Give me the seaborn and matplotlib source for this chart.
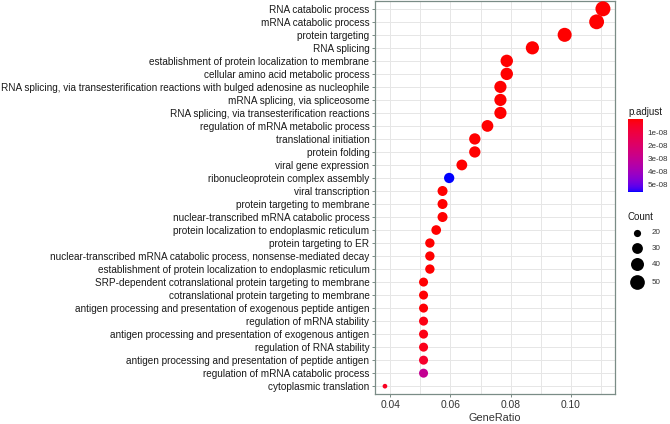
import numpy as np
import pandas as pd
import matplotlib
matplotlib.use("Agg")
import matplotlib.pyplot as plt
from matplotlib.colors import LinearSegmentedColormap, Normalize
from matplotlib.cm import ScalarMappable
import seaborn as sns

terms = [
    "RNA catabolic process",
    "mRNA catabolic process",
    "protein targeting",
    "RNA splicing",
    "establishment of protein localization to membrane",
    "cellular amino acid metabolic process",
    "RNA splicing, via transesterification reactions with bulged adenosine as nucleophile",
    "mRNA splicing, via spliceosome",
    "RNA splicing, via transesterification reactions",
    "regulation of mRNA metabolic process",
    "translational initiation",
    "protein folding",
    "viral gene expression",
    "ribonucleoprotein complex assembly",
    "viral transcription",
    "protein targeting to membrane",
    "nuclear-transcribed mRNA catabolic process",
    "protein localization to endoplasmic reticulum",
    "protein targeting to ER",
    "nuclear-transcribed mRNA catabolic process, nonsense-mediated decay",
    "establishment of protein localization to endoplasmic reticulum",
    "SRP-dependent cotranslational protein targeting to membrane",
    "cotranslational protein targeting to membrane",
    "antigen processing and presentation of exogenous peptide antigen",
    "regulation of mRNA stability",
    "antigen processing and presentation of exogenous antigen",
    "regulation of RNA stability",
    "antigen processing and presentation of peptide antigen",
    "regulation of mRNA catabolic process",
    "cytoplasmic translation",
]
gene_ratio = [0.1106, 0.1085, 0.0979, 0.0872, 0.0787, 0.0787, 0.0766, 0.0766,
              0.0766, 0.0723, 0.0681, 0.0681, 0.0638, 0.0596, 0.0574, 0.0574,
              0.0574, 0.0553, 0.0532, 0.0532, 0.0532, 0.0511, 0.0511, 0.0511,
              0.0511, 0.0511, 0.0511, 0.0511, 0.0511, 0.0383]
counts = [52, 51, 46, 41, 37, 37, 36, 36, 36, 34, 32, 32, 30, 28, 27, 27,
          27, 26, 25, 25, 25, 24, 24, 24, 24, 24, 24, 24, 24, 18]
p_adjust = [1e-20, 1e-20, 1e-18, 1e-16, 1e-15, 2e-14, 1e-14, 1e-14,
            1e-14, 1e-13, 1e-13, 1e-12, 1e-12, 5.55e-08, 1e-12, 1e-12,
            1e-12, 1e-11, 1e-11, 1e-11, 1e-11, 3e-10, 3e-10, 5e-10,
            2e-09, 2e-09, 3e-09, 6e-09, 3.0e-08, 4e-09]
size_legend_values = [20, 30, 40, 50]
cbar_ticks = [1e-08, 2e-08, 3e-08, 4e-08, 5e-08]
cbar_labels = ["1e-08", "2e-08", "3e-08", "4e-08", "5e-08"]
x_ticks = [0.04, 0.06, 0.08, 0.10]
x_tick_labels = ["0.04", "0.06", "0.08", "0.10"]

df = pd.DataFrame({"Description": terms, "GeneRatio": gene_ratio,
                   "Count": counts, "p.adjust": p_adjust})

# ---- colour map: red -> blue interpolated in CIE Lab (like ggplot) ----
def srgb_to_lab(rgb):
    rgb = np.asarray(rgb, float)
    lin = np.where(rgb <= 0.04045, rgb / 12.92, ((rgb + 0.055) / 1.055) ** 2.4)
    M = np.array([[0.4124, 0.3576, 0.1805], [0.2126, 0.7152, 0.0722], [0.0193, 0.1192, 0.9505]])
    xyz = M @ lin
    wp = np.array([0.95047, 1.0, 1.08883])
    t = xyz / wp
    f = np.where(t > (6/29) ** 3, np.cbrt(t), t / (3 * (6/29) ** 2) + 4/29)
    return np.array([116 * f[1] - 16, 500 * (f[0] - f[1]), 200 * (f[1] - f[2])])

def lab_to_srgb(lab):
    L, a, b = lab
    fy = (L + 16) / 116
    fx = fy + a / 500
    fz = fy - b / 200
    f = np.array([fx, fy, fz])
    t = np.where(f > 6/29, f ** 3, 3 * (6/29) ** 2 * (f - 4/29))
    xyz = t * np.array([0.95047, 1.0, 1.08883])
    Minv = np.array([[3.2406, -1.5372, -0.4986], [-0.9689, 1.8758, 0.0415], [0.0557, -0.2040, 1.0570]])
    lin = np.clip(Minv @ xyz, 0, 1)
    rgb = np.where(lin <= 0.0031308, 12.92 * lin, 1.055 * lin ** (1/2.4) - 0.055)
    return np.clip(rgb, 0, 1)

lab_r = srgb_to_lab([1, 0, 0])
lab_b = srgb_to_lab([0, 0, 1])
stops = [lab_to_srgb(lab_r + (lab_b - lab_r) * t) for t in np.linspace(0, 1, 64)]
cmap = LinearSegmentedColormap.from_list("redblue_lab", stops)
vmin, vmax = min(p_adjust), max(p_adjust)

# ---- size mapping (diameter in px, ggplot-like sqrt scaling) ----
cmin, cmax = min(counts), max(counts)
def area_for(c):
    d_px = 4.7 + 10.3 * np.sqrt(max(c - cmin, 0) / (cmax - cmin))
    d_pt = d_px * 72 / 100
    return d_pt ** 2
size_map = {c: area_for(c) for c in sorted(set(counts))}

sns.set_theme(style="white")
plt.rcParams["font.family"] = ["Liberation Sans", "DejaVu Sans"]

W, H = 670, 424
fig = plt.figure(figsize=(W / 100, H / 100), dpi=100)
ax = fig.add_axes([375/W, 1 - 394/H, 240/W, 393/H])

sns.scatterplot(data=df, x="GeneRatio", y="Description", hue="p.adjust",
                palette=cmap, hue_norm=(vmin, vmax), size="Count", sizes=size_map,
                linewidth=0, legend=False, ax=ax, zorder=3)

n = len(terms)
ax.set_ylim(n - 1 + 0.6, -0.6)
ax.set_xlim(0.0350, 0.1146)
ax.set_xticks(x_ticks)
ax.set_xticklabels(x_tick_labels)
ax.set_xticks([0.05, 0.07, 0.09, 0.11], minor=True)
ax.set_yticks(range(n))
ax.set_yticklabels(terms)
ax.grid(True, which="both", color="#e6e6e6", linewidth=0.7, zorder=0)
ax.set_axisbelow(True)
for sp in ax.spines.values():
    sp.set_color("#7a8c86")
    sp.set_linewidth(0.9)
ax.tick_params(axis="y", which="major", length=2.5, width=0.7, color="#7a8c86",
               labelsize=7.2, labelcolor="#1a1a1a", pad=1.5, left=True)
ax.tick_params(axis="x", which="major", length=2.5, width=0.7, color="#7a8c86",
               labelsize=7.4, labelcolor="#333333", pad=2, bottom=True)
ax.tick_params(axis="x", which="minor", length=0, bottom=False)
ax.set_xlabel("GeneRatio", fontsize=7.8, color="#333333", labelpad=2)
ax.set_ylabel("")

# ---- colour bar legend ----
cax = fig.add_axes([628/W, 1 - 192/H, 15/W, 73/H])
sm = ScalarMappable(norm=Normalize(vmin, vmax), cmap=cmap)
cb = fig.colorbar(sm, cax=cax)
cb.outline.set_visible(False)
cax.invert_yaxis()
cb.set_ticks(cbar_ticks)
cb.set_ticklabels(cbar_labels)
cax.tick_params(axis="y", direction="in", length=2.5, width=0.8, color="white",
                left=True, right=True, labelsize=5.8, labelcolor="#333333", pad=3.5)
fig.text(628/W, 1 - 112/H, "p.adjust", fontsize=7.0, color="#1a1a1a",
         ha="left", va="center")

# ---- size legend (drawn in an overlay axes in pixel units) ----
lax = fig.add_axes([0, 0, 1, 1], facecolor="none")
lax.set_xlim(0, W)
lax.set_ylim(H, 0)
lax.axis("off")
fig.text(628/W, 1 - 217/H, "Count", fontsize=7.0, color="#1a1a1a",
         ha="left", va="center")
legend_rows_y = [233, 248, 264, 282]
for v, yy in zip(size_legend_values, legend_rows_y):
    lax.scatter([637], [yy], s=area_for(v), color="black", linewidths=0)
    lax.text(652, yy, str(v), fontsize=5.8, color="#333333", ha="left", va="center")

fig.savefig("out.png", dpi=100)
